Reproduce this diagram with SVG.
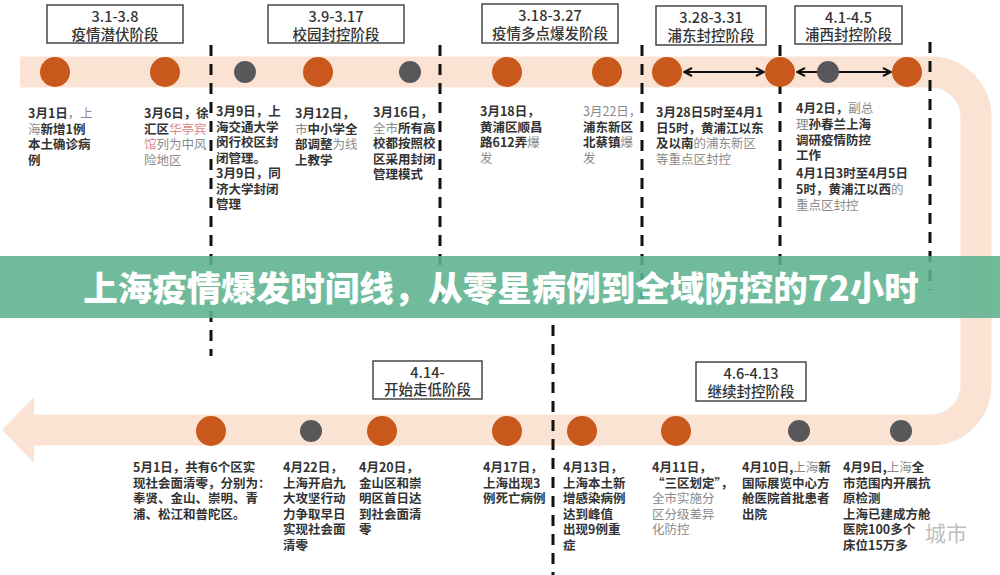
<svg xmlns="http://www.w3.org/2000/svg" width="1000" height="575" viewBox="0 0 1000 575">
<style>
.t{font-family:"Noto Sans CJK SC","Noto Sans",sans-serif;font-size:12.5px;font-weight:700;fill:#333}
.g{font-weight:400;fill:#8a8a8a}
.p{font-weight:400;fill:#d9878a}
.bx{fill:#fff;stroke:#3a3a3a;stroke-width:1.4}
.bt{font-family:"Noto Sans CJK SC","Noto Sans",sans-serif;font-size:14.5px;font-weight:500;fill:#333;text-anchor:middle}
.dot{fill:#c8581c}
.gd{fill:#58585a}
.dash{stroke:#111;stroke-width:3;stroke-dasharray:11 8;fill:none}
.arr{stroke:#111;stroke-width:2;fill:none;marker-start:url(#ah);marker-end:url(#ah)}
</style>
<defs>
<marker id="ah" viewBox="0 0 10 10" refX="9" refY="5" markerWidth="5" markerHeight="5" orient="auto-start-reverse" markerUnits="strokeWidth">
<path d="M1,1 L9,5 L1,9" fill="none" stroke="#111" stroke-width="2"/>
</marker>
</defs>
<rect width="1000" height="575" fill="#fff"/>
<!-- track -->
<g id="track">
<path d="M20,72 H931 A45,45 0 0 1 976,117 V385 A45,45 0 0 1 931,430 H33" fill="none" stroke="#fbe3d4" stroke-width="31"/>
<polygon points="2,430 34,397 34,463" fill="#fbe3d4"/>
</g>
<!-- connectors -->
<g id="connectors">
<line class="dash" x1="211" y1="45" x2="211" y2="356"/>
<line class="dash" x1="440" y1="45" x2="440" y2="300"/>
<line class="dash" x1="642" y1="45" x2="642" y2="300"/>
<line class="dash" x1="780" y1="45" x2="780" y2="300"/>
<line class="dash" x1="930" y1="42" x2="930" y2="290"/>
<line class="dash" x1="553" y1="325" x2="553" y2="575"/>
<line class="arr" x1="684" y1="72" x2="764" y2="72"/>
<line class="arr" x1="797" y1="72" x2="891" y2="72"/>
</g>
<!-- phase boxes -->
<g id="phase1"><rect class="bx" x="47" y="5" width="136" height="38"/><text class="bt" x="115" y="22">3.1-3.8</text><text class="bt" x="115" y="39.5">疫情潜伏阶段</text></g>
<g id="phase2"><rect class="bx" x="268" y="5" width="136" height="38"/><text class="bt" x="336" y="22">3.9-3.17</text><text class="bt" x="336" y="39.5">校园封控阶段</text></g>
<g id="phase3"><rect class="bx" x="482" y="4" width="136" height="39"/><text class="bt" x="550" y="21">3.18-3.27</text><text class="bt" x="550" y="39">疫情多点爆发阶段</text></g>
<g id="phase4"><rect class="bx" x="656" y="6" width="110" height="39"/><text class="bt" x="711" y="23">3.28-3.31</text><text class="bt" x="711" y="40.5">浦东封控阶段</text></g>
<g id="phase5"><rect class="bx" x="795" y="6" width="107" height="38"/><text class="bt" x="848.5" y="23">4.1-4.5</text><text class="bt" x="848.5" y="40">浦西封控阶段</text></g>
<g id="phase6"><rect class="bx" x="373" y="361" width="109" height="38"/><text class="bt" x="427.5" y="378">4.14-</text><text class="bt" x="427.5" y="395">开始走低阶段</text></g>
<g id="phase7"><rect class="bx" x="696" y="362" width="110" height="39"/><text class="bt" x="751" y="379">4.6-4.13</text><text class="bt" x="751" y="396.5">继续封控阶段</text></g>
<!-- top events -->
<g id="e0301"><circle class="dot" cx="55" cy="72" r="15"/>
<text class="t"><tspan x="28" y="118">3月1日<tspan class="g">，上</tspan></tspan><tspan x="28" y="133.5"><tspan class="g">海</tspan>新增1例</tspan><tspan x="28" y="149">本土确诊病</tspan><tspan x="28" y="164.5">例</tspan></text></g>
<g id="e0306"><circle class="dot" cx="165" cy="72" r="15"/>
<text class="t"><tspan x="144" y="118">3月6日，徐</tspan><tspan x="144" y="133.5">汇区<tspan class="p">华亭宾</tspan></tspan><tspan x="144" y="149"><tspan class="p">馆</tspan><tspan class="g">列为中风</tspan></tspan><tspan x="144" y="164.5" class="g">险地区</tspan></text></g>
<g id="e0309"><circle class="gd" cx="245" cy="72" r="11"/>
<text class="t"><tspan x="216" y="116">3月9日，上</tspan><tspan x="216" y="131.5">海交通大学</tspan><tspan x="216" y="147">闵行校区封</tspan><tspan x="216" y="162.5">闭管理。</tspan><tspan x="216" y="178">3月9日，同</tspan><tspan x="216" y="193.5">济大学封闭</tspan><tspan x="216" y="209">管理</tspan></text></g>
<g id="e0312"><circle class="dot" cx="318" cy="72" r="15"/>
<text class="t"><tspan x="295" y="118">3月12日，</tspan><tspan x="295" y="133.5"><tspan class="g">市</tspan>中小学全</tspan><tspan x="295" y="149">部调整<tspan class="g">为线</tspan></tspan><tspan x="295" y="164.5">上教学</tspan></text></g>
<g id="e0316"><circle class="gd" cx="410" cy="72" r="11"/>
<text class="t"><tspan x="373" y="117">3月16日，</tspan><tspan x="373" y="132.5"><tspan class="g">全市</tspan>所有高</tspan><tspan x="373" y="148">校都按照校</tspan><tspan x="373" y="163.5">区采用封闭</tspan><tspan x="373" y="179">管理模式</tspan></text></g>
<g id="e0318"><circle class="dot" cx="507" cy="72" r="15"/>
<text class="t"><tspan x="480" y="116">3月18日，</tspan><tspan x="480" y="131.5">黄浦区顺昌</tspan><tspan x="480" y="147">路612弄<tspan class="g">爆</tspan></tspan><tspan x="480" y="162.5" class="g">发</tspan></text></g>
<g id="e0322"><circle class="dot" cx="607" cy="72" r="15"/>
<text class="t"><tspan x="583" y="116" class="g">3月22日，</tspan><tspan x="583" y="131.5">浦东新区</tspan><tspan x="583" y="147">北蔡镇<tspan class="g">爆</tspan></tspan><tspan x="583" y="162.5" class="g">发</tspan></text></g>
<g id="e0328"><circle class="dot" cx="667" cy="72" r="15"/>
<text class="t"><tspan x="656" y="117">3月28日5时至4月1</tspan><tspan x="656" y="132.5">日5时，黄浦江以东</tspan><tspan x="656" y="148">及以南<tspan class="g">的浦东新区</tspan></tspan><tspan x="656" y="163.5" class="g">等重点区封控</tspan></text></g>
<g id="e0401"><circle class="dot" cx="780" cy="72" r="15"/></g>
<g id="e0402"><circle class="gd" cx="828" cy="72" r="11"/>
<text class="t"><tspan x="796" y="113">4月2日，<tspan class="g">副总</tspan></tspan><tspan x="796" y="129"><tspan class="g">理</tspan>孙春兰上海</tspan><tspan x="796" y="145">调研疫情防控</tspan><tspan x="796" y="160">工作</tspan><tspan x="796" y="178">4月1日3时至4月5日</tspan><tspan x="796" y="194">5时，黄浦江以西<tspan class="g">的</tspan></tspan><tspan x="796" y="209.5" class="g">重点区封控</tspan></text></g>
<g id="e0405"><circle class="dot" cx="907" cy="72" r="15"/></g>
<!-- bottom events -->
<g id="e0501"><circle class="dot" cx="211" cy="431" r="15"/>
<text class="t"><tspan x="133" y="472">5月1日，共有6个区实</tspan><tspan x="133" y="487.5">现社会面清零，分别为：</tspan><tspan x="133" y="503">奉贤、金山、崇明、青</tspan><tspan x="133" y="518.5">浦、松江和普陀区。</tspan></text></g>
<g id="e0422"><circle class="gd" cx="311" cy="431" r="11"/>
<text class="t"><tspan x="283" y="472">4月22日，</tspan><tspan x="283" y="487.5">上海开启九</tspan><tspan x="283" y="503">大攻坚行动</tspan><tspan x="283" y="518.5">力争取早日</tspan><tspan x="283" y="534">实现社会面</tspan><tspan x="283" y="549.5">清零</tspan></text></g>
<g id="e0420"><circle class="dot" cx="382" cy="431" r="15"/>
<text class="t"><tspan x="359" y="472">4月20日，</tspan><tspan x="359" y="487.5">金山区和崇</tspan><tspan x="359" y="503">明区首日达</tspan><tspan x="359" y="518.5">到社会面清</tspan><tspan x="359" y="534">零</tspan></text></g>
<g id="e0417"><circle class="dot" cx="507" cy="431" r="15"/>
<text class="t"><tspan x="483" y="472">4月17日，</tspan><tspan x="483" y="487.5">上海出现3</tspan><tspan x="483" y="503">例死亡病例</tspan></text></g>
<g id="e0413"><circle class="dot" cx="582" cy="431" r="15"/>
<text class="t"><tspan x="563" y="472">4月13日，</tspan><tspan x="563" y="487.5">上海本土新</tspan><tspan x="563" y="503">增感染病例</tspan><tspan x="563" y="518.5">达到峰值</tspan><tspan x="563" y="534">出现9例重</tspan><tspan x="563" y="549.5">症</tspan></text></g>
<g id="e0411"><circle class="dot" cx="676" cy="431" r="15"/>
<text class="t"><tspan x="652" y="472">4月11日，</tspan><tspan x="652" y="487.5">“三区划定”，</tspan><tspan x="652" y="503" class="g">全市实施分</tspan><tspan x="652" y="518.5" class="g">区分级差异</tspan><tspan x="652" y="534" class="g">化防控</tspan></text></g>
<g id="e0410"><circle class="gd" cx="799" cy="431" r="11"/>
<text class="t"><tspan x="742" y="472">4月10日,<tspan class="g">上海</tspan>新</tspan><tspan x="742" y="487.5">国际展览中心方</tspan><tspan x="742" y="503">舱医院首批患者</tspan><tspan x="742" y="518.5">出院</tspan></text></g>
<g id="e0409"><circle class="gd" cx="901" cy="431" r="11"/>
<text class="t"><tspan x="843" y="472">4月9日,<tspan class="g">上海</tspan>全</tspan><tspan x="843" y="487.5">市范围内开展抗</tspan><tspan x="843" y="503">原检测</tspan><tspan x="843" y="518.5">上海已建成方舱</tspan><tspan x="843" y="534">医院100多个</tspan><tspan x="843" y="549.5">床位15万多</tspan></text></g>
<text x="925" y="541" font-family="'Noto Sans CJK SC',sans-serif" font-size="21" fill="#b0b0b0" opacity="0.8">城市</text>
<!-- banner -->
<g id="banner">
<rect x="0" y="256" width="1000" height="62" fill="#5db290" opacity="0.88"/>
<text x="501" y="301" text-anchor="middle" font-family="'Noto Sans CJK SC','Noto Sans',sans-serif" font-size="34.5" font-weight="900" fill="#fff">上海疫情爆发时间线，从零星病例到全域防控的72小时</text>
</g>
</svg>
